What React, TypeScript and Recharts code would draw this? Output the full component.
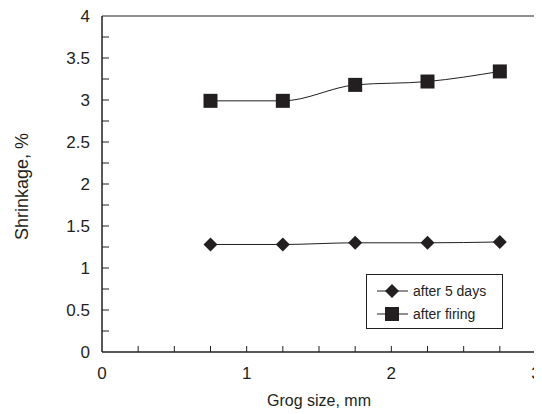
import React from 'react';
import { LineChart, Line, XAxis, YAxis, ReferenceLine } from 'recharts';

const grogSize = [0.75, 1.25, 1.75, 2.25, 2.75];
const after5Days = [1.28, 1.28, 1.3, 1.3, 1.31];
const afterFiring = [2.99, 2.99, 3.18, 3.22, 3.34];
const xTicks = [0, 0.25, 0.5, 0.75, 1, 1.25, 1.5, 1.75, 2, 2.25, 2.5, 2.75, 3];
const yTicks = [0, 0.25, 0.5, 0.75, 1, 1.25, 1.5, 1.75, 2, 2.25, 2.5, 2.75, 3, 3.25, 3.5, 3.75, 4];

const data = grogSize.map((g, i) => ({ g, d5: after5Days[i], fire: afterFiring[i] }));

const INK = '#231f20';
const FONT = 'Liberation Sans, Arial, sans-serif';

const Square = (props: any) => {
  const { cx, cy } = props;
  if (cx == null || cy == null) return null;
  return <rect x={cx - 7} y={cy - 7} width={14} height={14} fill={INK} />;
};

const Diamond = (props: any) => {
  const { cx, cy } = props;
  if (cx == null || cy == null) return null;
  const r = 7;
  return <polygon points={`${cx},${cy - r} ${cx + r},${cy} ${cx},${cy + r} ${cx - r},${cy}`} fill={INK} />;
};

const XTick = (props: any) => {
  const { x, y, payload } = props;
  const v = payload.value;
  const isInt = Math.abs(v - Math.round(v)) < 1e-6;
  return (
    <g>
      {v !== 0 && v !== 3 && <line x1={x} y1={y} x2={x} y2={y - 6} stroke={INK} strokeWidth={1} />}
      {isInt && (
        <text x={x} y={y + 27} textAnchor="middle" fontSize={17} fill={INK} fontFamily={FONT}>
          {v}
        </text>
      )}
    </g>
  );
};

const YTick = (props: any) => {
  const { x, y, payload } = props;
  const v = payload.value;
  const isHalf = Math.abs(v * 2 - Math.round(v * 2)) < 1e-6;
  return (
    <g>
      {v !== 0 && v !== 4 && <line x1={x} y1={y} x2={x + 7} y2={y} stroke={INK} strokeWidth={1} />}
      {isHalf && (
        <text x={x - 12} y={y + 6} textAnchor="end" fontSize={17} fill={INK} fontFamily={FONT}>
          {v}
        </text>
      )}
    </g>
  );
};

const LegendBox = () => (
  <svg width={138} height={56} style={{ display: 'block' }}>
    <rect x={0.5} y={0.5} width={136} height={54} fill="#fff" stroke={INK} strokeWidth={1} />
    <line x1={11} y1={17} x2={42} y2={17} stroke={INK} strokeWidth={1} />
    <Diamond cx={26} cy={17} />
    <text x={47} y={22} fontSize={14} fill={INK} fontFamily={FONT}>after 5 days</text>
    <line x1={11} y1={40} x2={42} y2={40} stroke={INK} strokeWidth={1} />
    <Square cx={26} cy={40} />
    <text x={47} y={45} fontSize={14} fill={INK} fontFamily={FONT}>after firing</text>
  </svg>
);

export default function App() {
  return (
    <div style={{ position: 'relative', width: 534, height: 406 }}>
      <LineChart width={534} height={406} data={data} margin={{ top: 8, right: 6, left: 0, bottom: 0 }}>
        <ReferenceLine y={4} stroke={INK} strokeWidth={1.2} ifOverflow="visible" />
        <ReferenceLine x={3} stroke="#777" strokeWidth={1} ifOverflow="visible" />
        <XAxis
          dataKey="g"
          type="number"
          domain={[0, 3]}
          ticks={xTicks}
          interval={0}
          tick={<XTick />}
          tickLine={false}
          tickSize={0}
          tickMargin={0}
          axisLine={{ stroke: INK, strokeWidth: 1.5 }}
          height={62}
          label={{ value: 'Grog size, mm', position: 'insideBottom', offset: 8, fontSize: 16, fill: INK, fontFamily: FONT }}
        />
        <YAxis
          type="number"
          domain={[0, 4]}
          ticks={yTicks}
          interval={0}
          tick={<YTick />}
          tickLine={false}
          tickSize={0}
          tickMargin={0}
          axisLine={{ stroke: INK, strokeWidth: 1.5 }}
          width={94}
          label={{ value: 'Shrinkage, %', angle: -90, position: 'insideLeft', offset: 14, dy: 56, fontSize: 18, fill: INK, fontFamily: FONT }}
        />
        <Line
          type="monotone"
          dataKey="d5"
          name="after 5 days"
          stroke={INK}
          strokeWidth={1}
          dot={<Diamond />}
          activeDot={false}
          isAnimationActive={false}
        />
        <Line
          type="monotone"
          dataKey="fire"
          name="after firing"
          stroke={INK}
          strokeWidth={1}
          dot={<Square />}
          activeDot={false}
          isAnimationActive={false}
        />
      </LineChart>
      <div style={{ position: 'absolute', left: 358, top: 266 }}>
        <LegendBox />
      </div>
    </div>
  );
}
